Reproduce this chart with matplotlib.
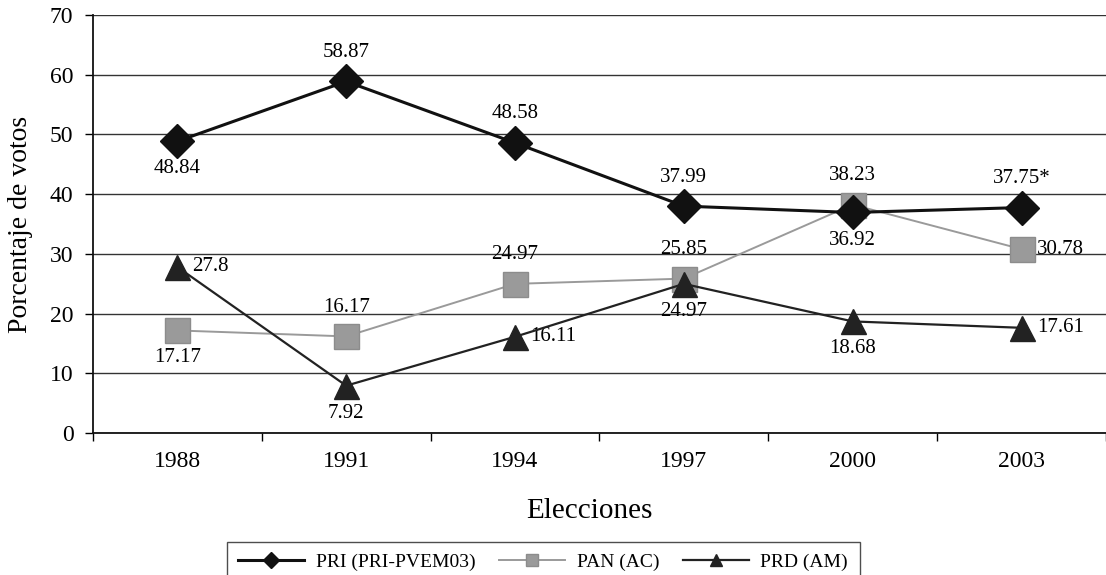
import matplotlib.pyplot as plt
import numpy as np

# Data
years = ["1988", "1991", "1994", "1997", "2000", "2003"]
pri = [48.84, 58.87, 48.58, 37.99, 36.92, 37.75]
pan = [17.17, 16.17, 24.97, 25.85, 38.23, 30.78]
prd = [27.8, 7.92, 16.11, 24.97, 18.68, 17.61]

pri_labels = ["48.84", "58.87", "48.58", "37.99", "36.92", "37.75*"]
pan_labels = ["17.17", "16.17", "24.97", "25.85", "38.23", "30.78"]
prd_labels = ["27.8", "7.92", "16.11", "24.97", "18.68", "17.61"]

# label placement: 'a' above, 'b' below, 'r' right
pri_pos = ["b", "a", "a", "a", "b", "a"]
pan_pos = ["b", "a", "a", "a", "a", "r"]
prd_pos = ["r", "b", "r", "b", "b", "r"]

plt.rcParams["font.family"] = ["Liberation Serif", "DejaVu Serif"]

fig = plt.figure(figsize=(11.06, 5.75), dpi=100)
ax = fig.add_axes([0.084, 0.247, 0.916, 0.727])

x = np.arange(len(years))
ax.plot(x, pri, color="#111111", lw=2.2, marker="D", ms=17, mec="#111111", mfc="#111111",
        label="PRI (PRI-PVEM03)", zorder=4)
ax.plot(x, pan, color="#9a9a9a", lw=1.4, marker="s", ms=18, mec="#8c8c8c", mfc="#9a9a9a",
        label="PAN (AC)", zorder=3)
ax.plot(x, prd, color="#222222", lw=1.6, marker="^", ms=18, mec="#222222", mfc="#222222",
        label="PRD (AM)", zorder=5)

# value labels
def put_labels(vals, labels, pos):
    for i, (v, t, p) in enumerate(zip(vals, labels, pos)):
        if p == "a":
            ax.annotate(t, (i, v), xytext=(0, 14), textcoords="offset points",
                        ha="center", va="bottom", fontsize=15)
        elif p == "b":
            ax.annotate(t, (i, v), xytext=(0, -13), textcoords="offset points",
                        ha="center", va="top", fontsize=15)
        else:
            ax.annotate(t, (i, v), xytext=(11, 0), textcoords="offset points",
                        ha="left", va="center", fontsize=15)

put_labels(pri, pri_labels, pri_pos)
put_labels(pan, pan_labels, pan_pos)
put_labels(prd, prd_labels, prd_pos)

# axes
ax.set_xlim(-0.5, len(years) - 0.5)
ax.set_ylim(0, 70)
ax.set_yticks(range(0, 71, 10))
ax.set_xticks(x)
ax.set_xticklabels(years)
ax.set_xticks(np.arange(-0.5, len(years), 1.0), minor=True)
ax.tick_params(axis="x", which="major", length=0, labelsize=17, pad=13)
ax.tick_params(axis="x", which="minor", length=6, width=1, direction="out")
ax.tick_params(axis="y", length=6, width=1, direction="out", labelsize=17, pad=8)

ax.grid(axis="y", color="#333333", lw=1)
ax.set_axisbelow(True)
for s in ["top", "right"]:
    ax.spines[s].set_visible(False)
for s in ["left", "bottom"]:
    ax.spines[s].set_linewidth(1.3)
    ax.spines[s].set_color("#111111")

ax.set_ylabel("Porcentaje de votos", fontsize=20, labelpad=12)
ax.set_xlabel("Elecciones", fontsize=21, labelpad=14)
ax.xaxis.set_label_coords(0.49, -0.155)

fig.legend(loc="upper center", bbox_to_anchor=(0.491, 0.075), ncol=3, fontsize=14,
           frameon=True, fancybox=False, edgecolor="#222222", markerscale=0.5,
           handlelength=3.4, columnspacing=1.2, handletextpad=0.6, borderpad=0.6)

fig.savefig("out.png", dpi=100)
